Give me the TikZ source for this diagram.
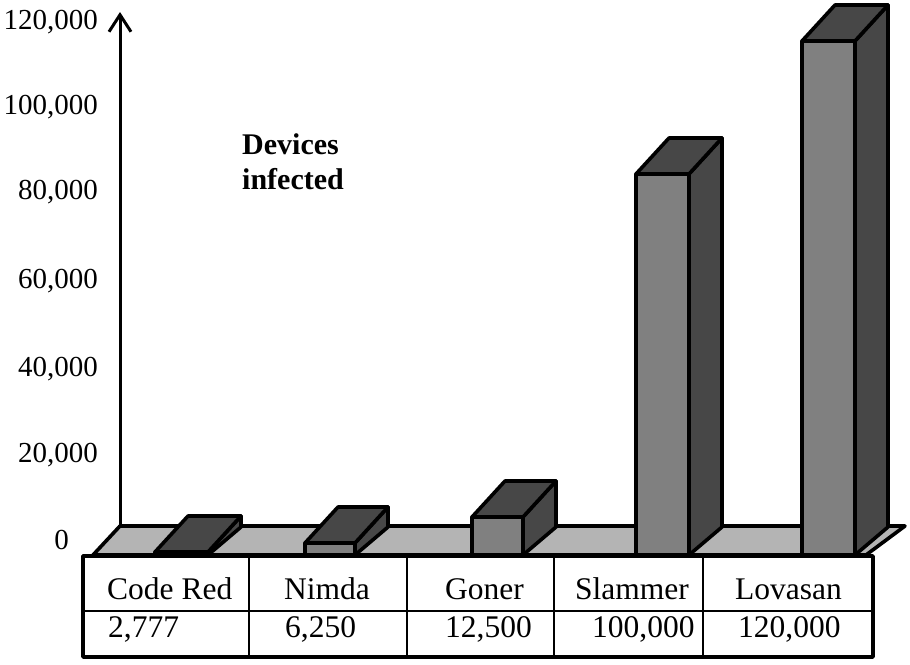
\documentclass[tikz,border=0pt]{standalone}
\usepackage{fontspec}
\setmainfont{Liberation Serif}
\usetikzlibrary{arrows.meta}

\definecolor{frontgray}{HTML}{808080}
\definecolor{darkgray}{HTML}{474747}
\definecolor{floorgray}{HTML}{B4B4B4}

\tikzset{
  edge/.style={draw=black, line width=3.6pt, line join=round},
  gridline/.style={draw=black, line width=1.6pt},
  ticklabel/.style={anchor=east, inner sep=0pt, font=\fontsize{29}{34}\selectfont},
  celltext/.style={anchor=base west, inner sep=0pt, font=\fontsize{31.5}{36}\selectfont},
  titletext/.style={anchor=base west, inner sep=0pt, font=\bfseries\fontsize{30}{34}\selectfont},
}

% one 3-D column: left x, right x, top y of the front face
\newcommand{\column}[3]{%
  \path[edge, fill=darkgray] (#2,555) -- (#2+33,527) -- (#2+33,#3-36) -- (#2,#3) -- cycle;
  \path[edge, fill=frontgray] (#1,555) rectangle (#2,#3);
  \path[edge, fill=darkgray] (#1,#3) -- (#2,#3) -- (#2+33,#3-36) -- (#1+33,#3-36) -- cycle;
}

\begin{document}
\begin{tikzpicture}[x=1pt, y=-1pt]
\useasboundingbox (0,0) rectangle (910,664);

% value axis
\coordinate (axisfoot) at (120,526);
\coordinate (axistip) at (120,12);
\draw[line width=3pt, -{Straight Barb[length=17pt, width=22pt, line width=3pt]}] (axisfoot) -- (axistip);

\node[ticklabel] (t120) at (98,22)  {120,000};
\node[ticklabel] (t100) at (98,107) {100,000};
\node[ticklabel] (t80)  at (98,192) {80,000};
\node[ticklabel] (t60)  at (98,281) {60,000};
\node[ticklabel] (t40)  at (98,369) {40,000};
\node[ticklabel] (t20)  at (98,455) {20,000};
\node[ticklabel] (t0)   at (69,540) {0};

\node[titletext] (title1) at (242,154) {Devices};
\node[titletext] (title2) at (242,189) {infected};

% floor
\path[edge, fill=floorgray] (93,555) -- (866,555) -- (905,526) -- (120,526) -- cycle;

% columns
\column{155}{208}{552}
\column{305}{355}{543}
\column{472}{523}{517}
\column{636}{689}{174}
\column{802}{855}{41}

% data table
\fill[white] (83,556) rectangle (873,657);
\draw[gridline] (83,611) -- (873,611);
\foreach \cx in {249,407,554,703} \draw[gridline] (\cx,556) -- (\cx,657);
\draw[edge] (83,556) rectangle (873,657);

\node[celltext] (n1) at (107,599) {Code Red};
\node[celltext] (n2) at (284,599) {Nimda};
\node[celltext] (n3) at (445,599) {Goner};
\node[celltext] (n4) at (575,599) {Slammer};
\node[celltext] (n5) at (735,599) {Lovasan};

\node[celltext] (v1) at (108,637) {2,777};
\node[celltext] (v2) at (285,637) {6,250};
\node[celltext] (v3) at (445,637) {12,500};
\node[celltext] (v4) at (592,637) {100,000};
\node[celltext] (v5) at (738,637) {120,000};
\end{tikzpicture}
\end{document}
